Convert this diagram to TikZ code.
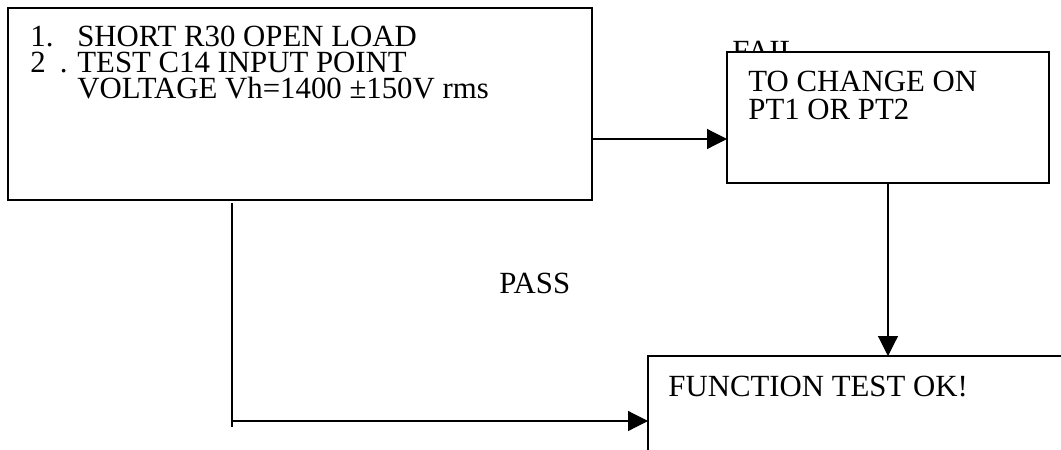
\documentclass[tikz,border=0pt]{standalone}
\usepackage{fontspec}
\setmainfont{Liberation Serif}
\usetikzlibrary{arrows.meta, calc}

\begin{document}
\begin{tikzpicture}[
    x=0.5pt, y=-0.5pt,
    font=\fontsize{15.4pt}{13pt}\selectfont,
    flowbox/.style={
        rectangle, draw=black, line width=0.8pt,
        fill=white, inner sep=0pt, outer sep=0pt,
        anchor=north west
    },
    boxtext/.style={anchor=north west, inner sep=0pt, align=left},
    tag/.style={anchor=north west, inner sep=0pt},
    arrow/.style={-{Triangle[length=10pt, width=10pt]}, line width=0.6pt},
]
\useasboundingbox (0,0) rectangle (1061,450);
\clip (0,0) rectangle (1061,450);

% ---------- Test step ----------
\node[flowbox, minimum width=292pt, minimum height=96pt] (test) at (8,8) {};
\node[boxtext] (testtext) at (30,26) {%
    \makebox[23.5pt][l]{1.}SHORT R30 OPEN LOAD\\
    \makebox[23.5pt][l]{2\hspace{7pt}.}TEST C14 INPUT POINT\\
    \hspace*{23.5pt}VOLTAGE Vh=1400 ±150V rms};

% ---------- Fail branch ----------
\node[tag] (fail) at (732,41) {FAIL};
\node[flowbox, minimum width=161pt, minimum height=65.5pt] (change) at (727,52) {};
\node[boxtext, font=\fontsize{15.4pt}{14pt}\selectfont] (changetext) at (748,71) {%
    TO CHANGE ON\\PT1 OR PT2};

% ---------- Result ----------
\node[flowbox, minimum width=240pt, minimum height=80pt] (ok) at (648,356) {};
\node[boxtext] (oktext) at (668,376) {FUNCTION TEST OK!};

\node[tag] (pass) at (499,273) {PASS};

% ---------- Arrows ----------
\coordinate (failout) at ([yshift=-17.5pt]test.east);
\draw[arrow] (failout) -- (failout -| change.west);
\draw[arrow] (change.south) -- (change.south |- ok.north);

\coordinate (passtop) at ([xshift=112pt, yshift=-1.5pt]test.south west);
\coordinate (passbend) at ($(passtop)+(0,218)$);
\draw[line width=0.75pt] (passtop) -- ($(passtop)+(0,224)$);
\draw[arrow] (passbend) -- (passbend -| ok.west);

\end{tikzpicture}
\end{document}
